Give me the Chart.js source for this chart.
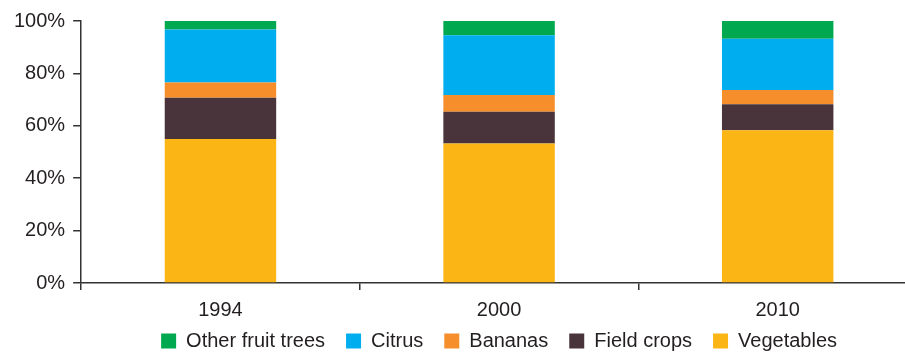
<!DOCTYPE html>
<html>
<head>
<meta charset="utf-8">
<script src="https://cdn.jsdelivr.net/npm/chart.js@4/dist/chart.umd.min.js"></script>
<style>
    html, body { margin: 0; padding: 0; background: #fff; overflow: hidden; }
    .chart-container { position: relative; width: 925px; height: 358px; }
</style>
</head>
<body>
<div class="chart-container">
    <canvas id="cropChart"></canvas>
</div>

<script>
    // Share of irrigated area by crop type (%), stacked bottom to top
    const years = ['1994', '2000', '2010'];
    const vegetables = [55.0, 53.2, 58.3];
    const fieldCrops = [15.7, 12.2, 9.9];
    const bananas = [5.8, 6.4, 5.5];
    const citrus = [20.3, 22.8, 19.5];
    const otherFruitTrees = [3.2, 5.4, 6.8];
    const yTicks = [0, 20, 40, 60, 80, 100];

    const axisColor = '#333333';
    const textColor = '#231f20';
    Chart.defaults.font.family = '"Liberation Sans", Arial, sans-serif';
    Chart.defaults.font.size = 20;
    Chart.defaults.color = textColor;

    function series(label, data, color) {
        return {
            label: label,
            data: data,
            backgroundColor: color,
            borderWidth: 0,
            categoryPercentage: 1.0,
            barPercentage: 0.4
        };
    }

    const ctx = document.getElementById('cropChart').getContext('2d');
    const chart = new Chart(ctx, {
        type: 'bar',
        data: {
            labels: years,
            datasets: [
                series('Vegetables', vegetables, '#fbb515'),
                series('Field crops', fieldCrops, '#4a343c'),
                series('Bananas', bananas, '#f68e2b'),
                series('Citrus', citrus, '#00aeef'),
                series('Other fruit trees', otherFruitTrees, '#00a94f')
            ]
        },
        options: {
            responsive: true,
            maintainAspectRatio: false,
            animation: false,
            layout: { padding: { top: 21, left: 6, right: 8, bottom: -3 } },
            plugins: {
                tooltip: { enabled: false },
                legend: {
                    position: 'bottom',
                    reverse: true,
                    fullSize: false,
                    labels: {
                        boxWidth: 15,
                        boxHeight: 15,
                        padding: 21,
                        color: textColor,
                        font: { size: 20 }
                    }
                }
            },
            scales: {
                x: {
                    stacked: true,
                    // labels sit in the legend's top padding, keeping the plot tall
                    afterFit: axis => {
                        axis.height -= 20;
                        axis._computeLabelArea = () => null;
                    },
                    border: { color: axisColor, width: 1.5 },
                    grid: {
                        offset: true,
                        drawOnChartArea: false,
                        tickLength: 7,
                        color: axisColor,
                        lineWidth: 1.5
                    },
                    ticks: { padding: 8, font: { size: 20 } }
                },
                y: {
                    stacked: true,
                    min: 0,
                    max: 100,
                    afterBuildTicks: axis => {
                        axis.ticks = yTicks.map(v => ({ value: v }));
                    },
                    border: { color: axisColor, width: 1.5 },
                    grid: {
                        drawOnChartArea: false,
                        tickLength: 8,
                        color: axisColor,
                        lineWidth: 1.5
                    },
                    ticks: {
                        padding: 8,
                        font: { size: 20 },
                        callback: value => value + '%'
                    }
                }
            }
        }
    });
</script>
</body>
</html>
